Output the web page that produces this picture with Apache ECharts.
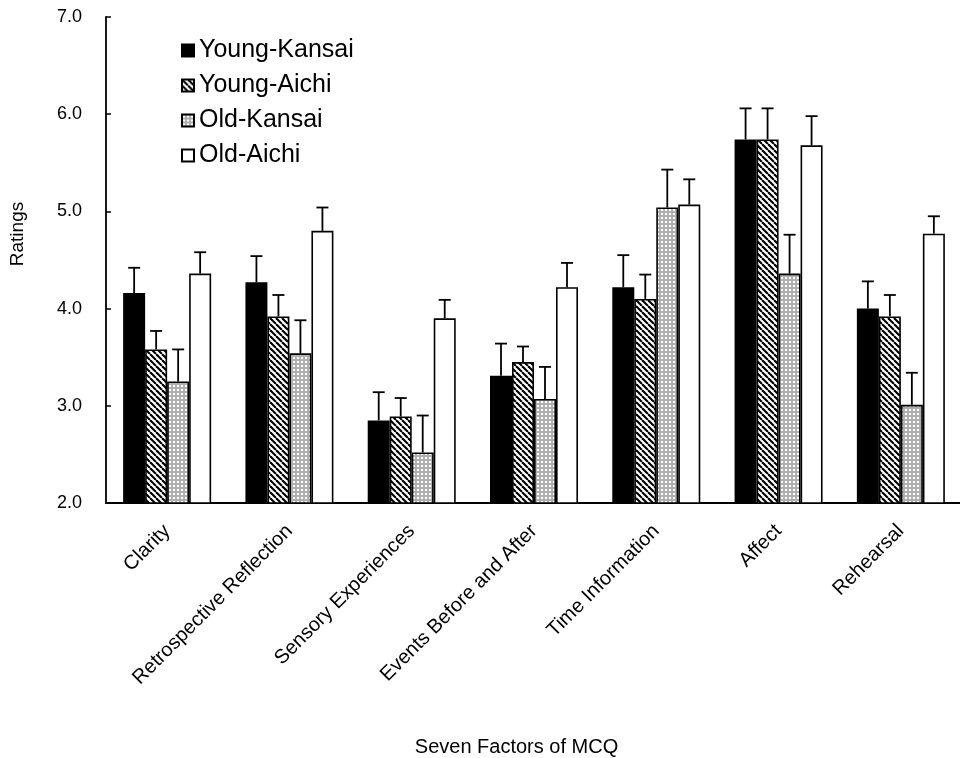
<!DOCTYPE html>
<html><head><meta charset="utf-8">
<script src="https://cdn.jsdelivr.net/npm/echarts@6/dist/echarts.min.js"></script>
<style>html,body{margin:0;padding:0;background:#fff}#c{width:960px;height:758px}</style>
</head><body><div id="c"></div>
<script>
var categories = ['Clarity','Retrospective Reflection','Sensory Experiences','Events Before and After','Time Information','Affect','Rehearsal'];
var seriesNames = ['Young-Kansai','Young-Aichi','Old-Kansai','Old-Aichi'];
var youngKansai = [4.16, 4.27, 2.85, 3.31, 4.22, 5.74, 4.00];
var youngAichi  = [3.58, 3.92, 2.89, 3.45, 4.10, 5.74, 3.92];
var oldKansai   = [3.25, 3.54, 2.52, 3.07, 5.04, 4.36, 3.01];
var oldAichi    = [4.36, 4.80, 3.90, 4.22, 5.07, 5.68, 4.77];
var youngKansaiErr = [0.26, 0.27, 0.29, 0.33, 0.33, 0.32, 0.28];
var youngAichiErr  = [0.19, 0.22, 0.19, 0.16, 0.25, 0.32, 0.22];
var oldKansaiErr   = [0.33, 0.34, 0.38, 0.33, 0.39, 0.40, 0.33];
var oldAichiErr    = [0.22, 0.24, 0.19, 0.25, 0.26, 0.30, 0.18];
var yTicks = [2, 3, 4, 5, 6, 7];

function hatch(){
  var s = 6;
  var c = document.createElement('canvas'); c.width = s; c.height = s;
  var g = c.getContext('2d');
  g.fillStyle = '#fff'; g.fillRect(0,0,s,s);
  g.strokeStyle = '#000'; g.lineWidth = 2.1;
  for (var k=-s; k<=2*s; k+=s){ g.beginPath(); g.moveTo(k,0); g.lineTo(k+s,s); g.stroke(); }
  return c;
}
function dots(){
  var c = document.createElement('canvas'); c.width = 4; c.height = 4;
  var g = c.getContext('2d');
  g.fillStyle = '#b0b0b0'; g.fillRect(0,0,4,4);
  g.fillStyle = '#fff'; g.fillRect(1,1,2,2);
  return c;
}
var fills = ['#000', {image: hatch(), repeat: 'repeat'}, {image: dots(), repeat: 'repeat'}, '#fff'];
var values = [youngKansai, youngAichi, oldKansai, oldAichi];
var errs = [youngKansaiErr, youngAichiErr, oldKansaiErr, oldAichiErr];
var BW = 22;
var offsets = [-1.5*BW, -0.5*BW, 0.5*BW, 1.5*BW];
var FONT = 'Liberation Sans, Arial, sans-serif';

var series = [];
seriesNames.forEach(function(n, i){
  series.push({
    name: n, type: 'bar', data: values[i], barWidth: BW, barGap: '0%',
    itemStyle: {color: fills[i], borderColor: '#000', borderWidth: 1.6},
    z: 2
  });
});
seriesNames.forEach(function(n, i){
  series.push({
    type: 'custom', silent: true, z: 1,
    data: values[i].map(function(v, j){ return [j, v, v + errs[i][j]]; }),
    renderItem: function(params, api){
      var p0 = api.coord([api.value(0), api.value(1)]);
      var p1 = api.coord([api.value(0), api.value(2)]);
      var x = p0[0] + offsets[i];
      return {type: 'group', children: [
        {type: 'line', shape: {x1: x, y1: p0[1], x2: x, y2: p1[1]}, style: {stroke: '#000', lineWidth: 1.8}},
        {type: 'line', shape: {x1: x-6, y1: p1[1], x2: x+6, y2: p1[1]}, style: {stroke: '#000', lineWidth: 1.8}}
      ]};
    }
  });
});

var chart = echarts.init(document.getElementById('c'));
chart.setOption({
  animation: false,
  backgroundColor: '#fff',
  textStyle: {fontFamily: FONT},
  grid: {left: 106, right: -2, top: 17, bottom: 255, containLabel: false, outerBoundsMode: 'none'},
  legend: {
    data: seriesNames, orient: 'vertical', left: 176, top: 33,
    itemWidth: 12, itemHeight: 12, itemGap: 10,
    textStyle: {fontSize: 25, lineHeight: 25, color: '#000', fontFamily: FONT, padding: [0,0,0,0]},
    icon: 'rect'
  },
  xAxis: {
    type: 'category', data: categories,
    name: 'Seven Factors of MCQ', nameLocation: 'middle', nameGap: 234,
    nameTextStyle: {fontSize: 20, color: '#000', padding: [0, 35, 0, 0]},
    axisLine: {lineStyle: {color: '#000', width: 1.8}},
    axisTick: {inside: true, length: 5, lineStyle: {color: '#000', width: 1.5}},
    axisLabel: {rotate: 45, fontSize: 20, color: '#000', margin: 25, padding: [32, 0, 0, 0], interval: 0}
  },
  yAxis: {
    type: 'value', min: yTicks[0], max: yTicks[yTicks.length-1], interval: 1,
    name: 'Ratings', nameLocation: 'middle', nameGap: 79,
    nameTextStyle: {fontSize: 19, color: '#000', padding: [0, 0, 0, 52]},
    axisLine: {show: true, lineStyle: {color: '#000', width: 1.8}},
    axisTick: {show: true, inside: true, length: 5, lineStyle: {color: '#000', width: 1.5}},
    splitLine: {show: false},
    axisLabel: {fontSize: 18, color: '#000', margin: 24, formatter: function(v){ return v.toFixed(1); }}
  },
  series: series
});
</script></body></html>
